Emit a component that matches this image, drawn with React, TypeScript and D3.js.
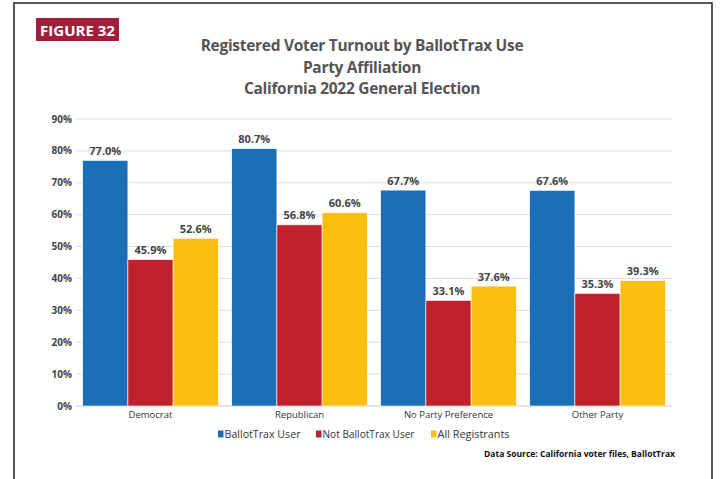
import React from 'react';
import * as d3 from 'd3';

const categories = ['Democrat', 'Republican', 'No Party Preference', 'Other Party'];
const seriesNames = ['BallotTrax User', 'Not BallotTrax User', 'All Registrants'];
const ballotTraxUser = [77.0, 80.7, 67.7, 67.6];
const notBallotTraxUser = [45.9, 56.8, 33.1, 35.3];
const allRegistrants = [52.6, 60.6, 37.6, 39.3];
const yTicks = [0, 10, 20, 30, 40, 50, 60, 70, 80, 90];
const titleLines = [
  'Registered Voter Turnout by BallotTrax Use',
  'Party Affiliation',
  'California 2022 General Election',
];

const colors = ['#1b6fb8', '#c0212b', '#fdbe14'];
const FONT = '"Open Sans", "Noto Sans", sans-serif';

if (typeof document !== 'undefined') document.body.style.margin = '0';

const App: React.FC = () => {
  const width = 720;
  const height = 479;
  const left = 76;
  const right = 672;
  const top = 119;
  const bottom = 406;

  const series = [ballotTraxUser, notBallotTraxUser, allRegistrants];

  const x0 = d3.scaleBand<string>()
    .domain(categories)
    .range([left, right])
    .paddingInner(0.09)
    .paddingOuter(0.045);

  const x1 = d3.scaleBand<string>()
    .domain(seriesNames)
    .range([0, x0.bandwidth()])
    .padding(0);

  const y = d3.scaleLinear().domain([0, 90]).range([bottom, top]);

  return (
    <svg width={width} height={height} style={{ display: 'block', background: '#fff' }} fontFamily={FONT}>
      {/* frame */}
      <rect x={14} y={3} width={698} height={500} fill="none" stroke="#222" strokeWidth={1.5} />

      {/* figure badge */}
      <rect x={36} y={18} width={83} height={23} fill="#a11f3b" />
      <text x={77.5} y={35.5} textAnchor="middle" fill="#fff" fontSize={15} fontWeight={700}>
        FIGURE 32
      </text>

      {/* title */}
      {titleLines.map((t, i) => (
        <text key={t} x={362} y={51 + i * 21.5} textAnchor="middle" fill="#555" fontSize={15.5} fontWeight={700}
          letterSpacing={-0.3}>
          {t}
        </text>
      ))}

      {/* grid + y ticks */}
      {yTicks.map(t => (
        <g key={t}>
          <line x1={left} x2={right} y1={y(t)} y2={y(t)} stroke={t === 0 ? '#c8c8c8' : '#dcdcdc'} strokeWidth={1} />
          <text x={72} y={y(t) + 3.5} textAnchor="end" fill="#444" fontSize={10} fontWeight={700}>
            {t}%
          </text>
        </g>
      ))}

      {/* bars */}
      {categories.map((c, ci) => (
        <g key={c} transform={`translate(${x0(c)},0)`}>
          {seriesNames.map((s, si) => {
            const v = series[si][ci];
            const bx = x1(s) as number;
            return (
              <g key={s}>
                <rect x={bx} y={y(v)} width={x1.bandwidth()} height={bottom - y(v)} fill={colors[si]}
                  stroke="#fff" strokeWidth={0.6} />
                <text x={bx + x1.bandwidth() / 2} y={y(v) - 5.5} textAnchor="middle" fill="#444" fontSize={11}
                  fontWeight={700}>
                  {v.toFixed(1)}%
                </text>
              </g>
            );
          })}
          <text x={x0.bandwidth() / 2} y={418} textAnchor="middle" fill="#333" fontSize={9.5}>
            {c}
          </text>
        </g>
      ))}

      {/* legend */}
      {(() => {
        const items = [
          { x: 218, w: 76 },
          { x: 316, w: 92 },
          { x: 431, w: 72 },
        ];
        return seriesNames.map((s, i) => (
          <g key={s} transform={`translate(${items[i].x},434)`}>
            <rect x={0} y={-3.5} width={5.5} height={7} fill={colors[i]} />
            <text x={6.5} y={3.5} fill="#333" fontSize={10} textLength={items[i].w} lengthAdjust="spacingAndGlyphs">
              {s}
            </text>
          </g>
        ));
      })()}

      <text x={484} y={457} fill="#111" fontSize={8.8} fontWeight={700} textLength={191}
        lengthAdjust="spacingAndGlyphs">
        Data Source: California voter files, BallotTrax
      </text>
    </svg>
  );
};

export default App;
